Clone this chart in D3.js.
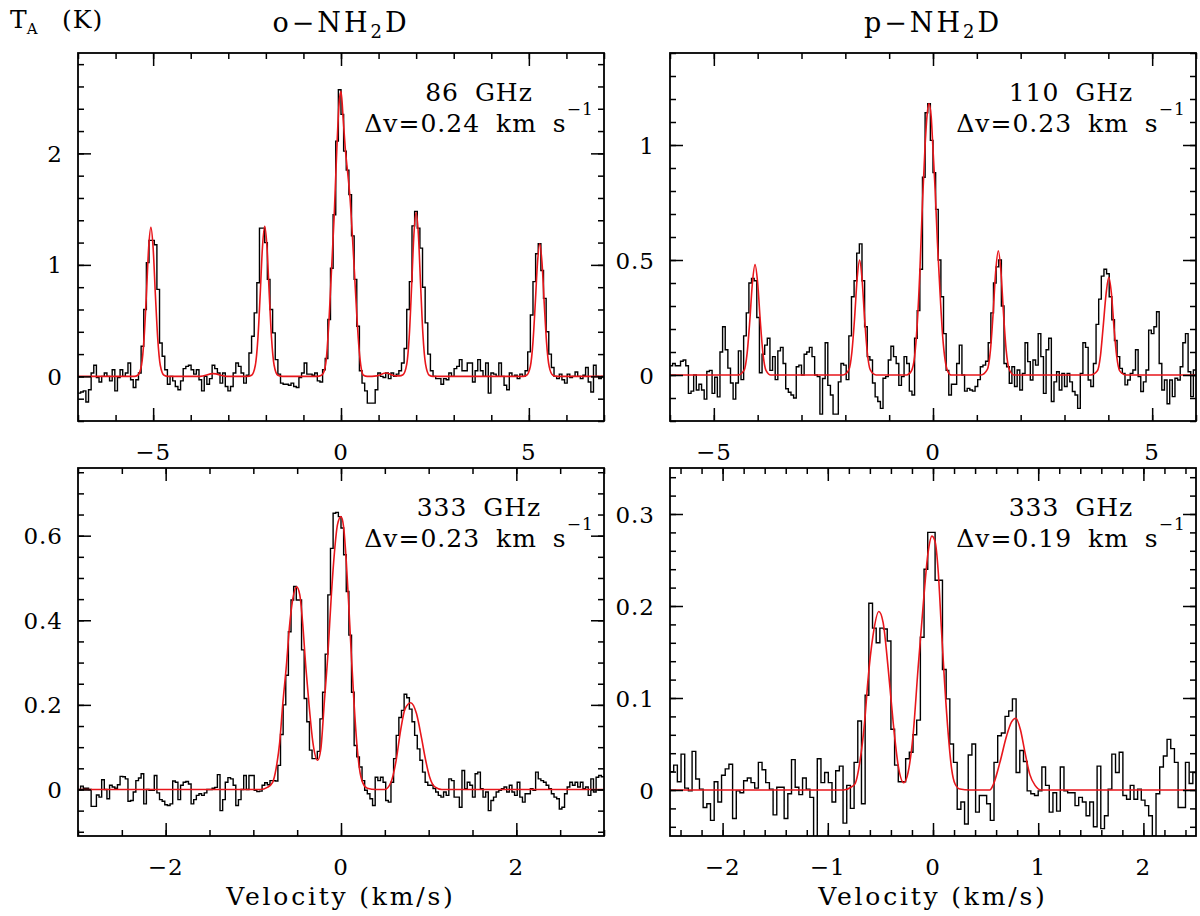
<!DOCTYPE html>
<html>
<head>
<meta charset="utf-8">
<script src="https://cdn.jsdelivr.net/npm/d3@7"></script>
<style>
  body { margin: 0; background: #fff; }
  text { font-family: "DejaVu Serif", serif; fill: #000; }
</style>
</head>
<body>
<svg id="chart" width="1200" height="916"></svg>
<script>
// ---- o-NH2D 86 GHz spectrum (channels of 0.07 km/s starting at -7 km/s)
const v0_86 = -7, dv_86 = 0.07;
const spec86 = [
  -0.15,-0.14,-0.13,-0.23,-0.12,0.03,0.10,-0.01,-0.05,0.00,
  0.03,0.00,-0.04,0.06,-0.13,-0.01,0.06,0.00,0.03,0.12,
  -0.03,-0.10,-0.03,0.03,0.27,0.60,1.02,1.22,1.22,1.18,
  0.78,0.30,0.18,0.06,-0.07,0.00,-0.04,-0.09,-0.12,-0.04,
  0.07,0.09,0.10,0.06,0.02,0.06,-0.03,-0.13,0.00,-0.07,
  -0.02,0.10,0.07,0.03,-0.06,0.03,-0.09,-0.13,-0.09,0.03,
  0.12,0.09,0.03,-0.06,0.01,0.21,0.36,0.57,0.84,1.33,
  1.33,1.20,0.87,0.60,0.39,0.15,0.02,-0.06,-0.07,-0.07,
  -0.08,-0.06,-0.09,-0.10,-0.01,0.03,0.12,0.02,0.02,0.01,
  0.03,-0.04,-0.05,0.06,0.16,0.51,0.97,1.45,2.11,2.57,
  2.35,2.02,1.85,1.63,1.26,0.87,0.45,0.05,-0.06,-0.13,
  -0.24,-0.24,-0.24,-0.12,0.03,0.00,-0.01,0.03,-0.02,0.03,
  0.00,0.02,0.05,0.12,0.25,0.60,0.85,1.35,1.48,1.33,
  1.15,0.80,0.48,0.20,0.05,0.00,-0.02,-0.02,-0.07,-0.02,
  -0.03,0.03,0.00,0.07,0.09,0.15,0.05,0.05,0.12,0.12,
  -0.05,0.05,0.15,0.05,0.00,0.12,-0.15,0.03,0.02,0.00,
  0.12,0.00,-0.08,-0.12,0.03,0.00,0.01,-0.02,0.02,0.00,
  0.05,0.22,0.55,0.85,1.10,1.19,0.95,0.70,0.40,0.20,
  0.08,0.00,-0.02,0.02,-0.03,-0.06,0.02,-0.01,0.00,0.04,
  0.00,-0.02,0.01,0.08,-0.05,-0.14,0.10,0.00,-0.02,0.00
];
// fitted hyperfine profile [velocity, T]
const fit86 = [
  [-7,0],[-5.5,0],[-5.41,0.01],[-5.31,0.10],[-5.24,0.35],[-5.18,0.73],[-5.12,1.15],[-5.06,1.336],
  [-5.00,1.15],[-4.94,0.73],[-4.88,0.35],[-4.81,0.10],[-4.71,0.01],[-4.6,0],
  [-3.75,0],[-3.4,0.025],[-3.05,0],
  [-2.5,0],[-2.38,0.01],[-2.28,0.10],[-2.21,0.35],[-2.15,0.74],[-2.09,1.16],[-2.03,1.345],
  [-1.97,1.16],[-1.91,0.74],[-1.85,0.35],[-1.78,0.10],[-1.68,0.01],[-1.55,0],
  [-0.62,0],[-0.55,0.005],[-0.47,0.03],[-0.39,0.16],[-0.32,0.5],[-0.25,0.97],[-0.18,1.45],
  [-0.11,2.05],[-0.05,2.45],[0,2.556],[0.06,2.3],[0.12,2.02],[0.18,1.82],[0.24,1.6],[0.3,1.28],
  [0.36,0.92],[0.42,0.55],[0.48,0.25],[0.54,0.07],[0.6,0.01],[0.7,0],
  [0.95,0.005],[1.2,0.03],[1.45,0.005],[1.55,0.005],[1.65,0.015],[1.75,0.11],[1.82,0.38],
  [1.88,0.81],[1.94,1.27],[2.0,1.47],[2.06,1.27],[2.12,0.81],[2.18,0.38],[2.25,0.11],[2.35,0.01],[2.45,0],
  [4.85,0],[4.94,0.01],[5.04,0.09],[5.11,0.31],[5.17,0.65],[5.23,1.02],[5.29,1.19],[5.35,1.02],
  [5.41,0.65],[5.47,0.31],[5.54,0.09],[5.64,0.01],[5.75,0],[7,0]
];

// ---- p-NH2D 110 GHz spectrum (channels of 0.06 km/s starting at -6 km/s)
const v0_110 = -6, dv_110 = 0.06;
const spec110 = [
  0.04,0.05,0.04,0.04,0.06,0.065,0.04,-0.08,-0.07,0.00,
  -0.065,-0.04,-0.065,-0.105,0.015,0.02,-0.08,-0.01,-0.095,0.10,
  0.21,0.11,0.03,-0.035,-0.105,-0.035,0.105,-0.02,0.17,0.27,
  0.40,0.42,0.41,0.25,0.01,0.09,0.13,0.16,0.02,0.08,
  -0.02,0.105,0.12,0.05,-0.06,-0.075,-0.087,-0.10,0.036,0.043,
  0.00,0.09,0.10,0.12,0.08,0.00,-0.007,-0.17,-0.015,0.14,
  -0.045,-0.087,-0.17,-0.17,-0.03,0.05,0.043,-0.02,0.17,0.34,
  0.41,0.53,0.57,0.41,0.21,0.08,0.065,-0.035,-0.095,-0.115,
  -0.145,-0.014,-0.007,0.065,0.125,0.08,0.05,-0.045,-0.007,0.08,
  0.05,-0.07,-0.087,0.16,0.28,0.46,0.86,1.14,1.18,1.02,
  0.88,0.72,0.50,0.34,0.18,0.02,-0.087,-0.04,-0.04,0.05,
  0.13,0.00,-0.07,-0.058,-0.065,-0.07,-0.05,-0.02,0.036,0.043,
  0.06,0.14,0.27,0.40,0.47,0.50,0.30,0.05,0.036,-0.036,
  0.036,-0.05,0.022,-0.065,0.007,0.14,0.058,-0.022,0.065,0.043,
  0.18,0.08,-0.08,0.11,0.16,-0.115,-0.03,0.014,-0.065,0.007,
  -0.05,0.007,-0.03,-0.072,-0.087,-0.145,0.007,0.14,0.12,-0.022,
  -0.05,0.05,0.22,0.33,0.43,0.46,0.44,0.34,0.24,0.15,
  0.08,0.029,0.007,-0.043,-0.022,0.007,0.022,0.11,-0.007,-0.072,
  -0.03,0.022,0.195,0.18,0.21,0.275,0.05,-0.065,-0.022,-0.125,
  -0.022,-0.094,-0.014,-0.022,0.036,0.14,0.18,0.014,-0.094,0.022
];
const fit110 = [
  [-6,0],[-4.45,0],[-4.31,0.02],[-4.24,0.095],[-4.18,0.234],[-4.12,0.40],[-4.06,0.48],[-4.0,0.40],
  [-3.94,0.234],[-3.88,0.095],[-3.81,0.02],[-3.7,0],
  [-2.05,0],[-1.92,0.022],[-1.85,0.10],[-1.79,0.244],[-1.73,0.42],[-1.675,0.50],[-1.62,0.42],
  [-1.56,0.244],[-1.5,0.10],[-1.43,0.022],[-1.3,0],
  [-0.6,0],[-0.5,0.015],[-0.42,0.08],[-0.36,0.22],[-0.3,0.45],[-0.24,0.75],[-0.18,1.0],[-0.13,1.14],
  [-0.09,1.18],[-0.04,1.12],[0.0,0.98],[0.05,0.8],[0.1,0.58],[0.16,0.36],[0.22,0.17],[0.28,0.06],
  [0.34,0.015],[0.42,0],
  [1.1,0],[1.24,0.024],[1.31,0.107],[1.37,0.263],[1.43,0.45],[1.49,0.54],[1.55,0.45],[1.61,0.263],
  [1.67,0.107],[1.74,0.024],[1.85,0],
  [3.6,0],[3.75,0.018],[3.82,0.083],[3.88,0.205],[3.95,0.355],[4.01,0.425],[4.07,0.355],[4.13,0.205],
  [4.19,0.083],[4.26,0.018],[4.4,0],[6,0]
];

// ---- o-NH2D 333 GHz spectrum (channels of 0.03 km/s starting at -3 km/s)
const v0_333o = -3, dv_333o = 0.03;
const spec333o = [
  0.00,0.008,0.003,0.003,0.00,-0.04,-0.04,-0.013,-0.018,0.023,
  0.00,-0.022,0.01,0.006,0.003,0.011,0.031,0.03,0.025,-0.028,
  -0.026,-0.006,0.021,0.027,0.037,-0.034,0.00,-0.002,-0.002,0.033,
  -0.008,-0.024,-0.028,-0.036,-0.038,-0.034,0.02,0.017,-0.024,0.01,
  0.017,0.019,0.013,-0.034,-0.024,-0.014,-0.01,-0.014,-0.008,0.00,
  0.00,0.003,0.005,0.035,-0.05,-0.024,0.017,0.028,0.025,0.01,
  -0.038,-0.024,0.00,0.033,0.00,0.033,0.033,-0.002,-0.005,-0.004,
  0.01,0.016,0.011,0.021,0.021,0.02,0.057,0.13,0.20,0.27,
  0.373,0.448,0.48,0.448,0.448,0.33,0.215,0.16,0.093,0.073,
  0.073,0.09,0.167,0.23,0.32,0.46,0.57,0.653,0.655,0.645,
  0.618,0.555,0.468,0.365,0.23,0.104,0.077,0.053,0.021,-0.002,
  -0.01,-0.022,-0.038,0.029,0.021,0.029,0.017,-0.026,-0.03,0.017,
  0.073,0.128,0.17,0.187,0.225,0.217,0.19,0.16,0.128,0.096,
  0.069,0.041,0.017,0.01,0.01,0.002,-0.006,-0.014,-0.018,-0.006,
  -0.014,0.025,0.021,-0.018,-0.018,-0.042,0.045,0.002,0.017,0.01,
  -0.018,0.037,0.041,0.002,-0.018,-0.006,-0.05,-0.026,-0.018,-0.006,
  -0.002,0.002,0.006,-0.006,0.01,-0.006,-0.014,0.017,-0.018,-0.03,
  -0.01,-0.01,0.002,-0.002,0.041,0.025,0.021,0.017,0.01,0.002,
  -0.01,-0.018,-0.022,-0.046,-0.042,-0.01,0.006,0.017,0.01,0.017,
  0.006,0.017,0.002,0.006,-0.014,0.025,-0.006,0.029,0.033,0.03
];
const fit333o = [
  [-3,0],[-0.92,0],[-0.84,0.005],[-0.78,0.017],[-0.74,0.05],[-0.70,0.11],[-0.665,0.2],[-0.62,0.3],
  [-0.59,0.38],[-0.55,0.45],[-0.506,0.479],[-0.47,0.46],[-0.44,0.4],[-0.40,0.286],[-0.36,0.19],
  [-0.32,0.11],[-0.266,0.069],[-0.23,0.096],[-0.19,0.207],[-0.15,0.318],[-0.11,0.46],[-0.075,0.56],
  [-0.04,0.626],[0,0.645],[0.03,0.62],[0.06,0.54],[0.09,0.43],[0.12,0.31],[0.15,0.2],[0.18,0.11],
  [0.21,0.05],[0.25,0.015],[0.3,0.003],[0.4,0],[0.5,0],[0.57,0.017],[0.63,0.07],[0.68,0.14],
  [0.73,0.19],[0.795,0.205],[0.86,0.18],[0.92,0.12],[0.96,0.075],[1.01,0.03],[1.07,0.006],[1.15,0],[3,0]
];

// ---- p-NH2D 333 GHz spectrum (channels of 0.035 km/s starting at -2.5 km/s)
const v0_333p = -2.5, dv_333p = 0.035;
const spec333p = [
  0.02,0.027,0.009,0.039,0.002,-0.001,0.042,0.012,0.001,-0.019,
  -0.015,-0.033,0.009,-0.013,0.016,0.023,0.028,-0.031,-0.001,-0.003,
  0.01,0.013,0.008,0.002,0.03,0.022,0.008,0.001,-0.027,0.003,
  0.003,-0.031,-0.004,0.033,0.003,-0.005,0.013,0.001,-0.008,-0.06,
  0.034,0.008,0.019,0.008,-0.013,0.021,0.026,-0.036,0.005,-0.02,
  0.03,0.075,-0.015,0.103,0.203,0.176,0.16,0.176,0.175,0.162,
  0.066,0.027,0.009,0.009,0.034,0.041,0.06,0.076,0.166,0.24,
  0.28,0.28,0.228,0.228,0.131,0.099,0.05,0.03,-0.021,-0.013,
  -0.037,0.038,0.05,-0.024,-0.006,-0.006,-0.015,-0.033,0.03,0.059,
  0.062,0.08,0.086,0.099,0.019,0.043,0.031,-0.001,-0.004,-0.006,
  -0.001,0.025,0.005,-0.024,-0.003,-0.023,0.025,-0.001,-0.003,-0.003,
  -0.017,-0.008,-0.013,-0.028,-0.013,-0.04,0.026,-0.042,-0.028,0.001,
  0.039,0.019,0.041,-0.006,-0.01,0.005,-0.01,0.001,-0.011,-0.017,
  -0.028,-0.05,-0.004,0.025,0.037,0.055,0.045,0.03,-0.019,-0.019,
  0.03,0.007,0.019
];
const fit333p = [
  [-2.5,0],[-0.85,0],[-0.78,0.003],[-0.74,0.007],[-0.696,0.03],[-0.65,0.074],[-0.62,0.117],
  [-0.57,0.168],[-0.515,0.194],[-0.474,0.182],[-0.426,0.132],[-0.379,0.074],[-0.33,0.026],
  [-0.278,0.008],[-0.237,0.019],[-0.19,0.059],[-0.142,0.132],[-0.094,0.2],[-0.047,0.258],
  [-0.01,0.276],[0.02,0.27],[0.05,0.237],[0.08,0.175],[0.11,0.117],[0.146,0.059],[0.177,0.023],
  [0.21,0.0065],[0.256,0.001],[0.35,0],[0.54,0],[0.57,0.005],[0.636,0.03],[0.7,0.059],[0.747,0.074],
  [0.788,0.078],[0.83,0.066],[0.874,0.041],[0.92,0.017],[0.97,0.005],[1.03,0],[2.5,0]
];

// ---- axis labels
const xLabels86 = [-5, 0, 5], yLabels86 = [0, 1, 2];
const xLabels110 = [-5, 0, 5], yLabels110 = [0, 0.5, 1];
const xLabels333o = [-2, 0, 2], yLabels333o = [0, 0.2, 0.4, 0.6];
const xLabels333p = [-2, -1, 0, 1, 2], yLabels333p = [0, 0.1, 0.2, 0.3];
const freqLabels = ["86 GHz", "110 GHz", "333 GHz", "333 GHz"];
const widthLabels = ["0.24", "0.23", "0.23", "0.19"];

const panels = [
  { x0: 78,  x1: 604,  y0: 53,  y1: 421, xDom: [-7, 7],     yDom: [-0.4, 2.9],   xStep: 1,   yStep: 0.2,
    xMajor: xLabels86, yMajor: yLabels86, v0: v0_86, dv: dv_86, spec: spec86, fit: fit86, velocity: false },
  { x0: 670, x1: 1196, y0: 53,  y1: 421, xDom: [-6, 6],     yDom: [-0.2, 1.4],   xStep: 1,   yStep: 0.1,
    xMajor: xLabels110, yMajor: yLabels110, v0: v0_110, dv: dv_110, spec: spec110, fit: fit110, velocity: false },
  { x0: 78,  x1: 604,  y0: 468, y1: 836, xDom: [-3, 3],     yDom: [-0.11, 0.76], xStep: 0.5, yStep: 0.05,
    xMajor: xLabels333o, yMajor: yLabels333o, v0: v0_333o, dv: dv_333o, spec: spec333o, fit: fit333o, velocity: true },
  { x0: 670, x1: 1196, y0: 468, y1: 836, xDom: [-2.5, 2.5], yDom: [-0.05, 0.35], xStep: 0.2, yStep: 0.02,
    xMajor: xLabels333p, yMajor: yLabels333p, v0: v0_333p, dv: dv_333p, spec: spec333p, fit: fit333p, velocity: true }
];

const svg = d3.select("#chart");
const fmt = d3.format("~g");

function stepValues(dom, step) {
  const a = Math.ceil(dom[0] / step - 1e-9), b = Math.floor(dom[1] / step + 1e-9);
  return d3.range(a, b + 1).map(i => +(i * step).toFixed(6));
}

function tickAxis(g, axis, values, len) {
  g.call(axis.tickValues(values).tickSize(-len).tickFormat(""));
  g.select(".domain").remove();
  g.selectAll(".tick line").attr("stroke", "#000").attr("stroke-width", 1.5);
}

panels.forEach((p, i) => {
  const x = d3.scaleLinear().domain(p.xDom).range([p.x0, p.x1]);
  const y = d3.scaleLinear().domain(p.yDom).range([p.y1, p.y0]);
  const g = svg.append("g");

  const clipId = "clip" + i;
  svg.append("clipPath").attr("id", clipId)
    .append("rect").attr("x", p.x0).attr("y", p.y0)
    .attr("width", p.x1 - p.x0).attr("height", p.y1 - p.y0);

  // observed spectrum as a histogram
  const bins = p.spec.map((t, k) => [p.v0 + k * p.dv, t]);
  bins.push([p.v0 + p.spec.length * p.dv, p.spec[p.spec.length - 1]]);
  const hist = d3.line().x(d => x(d[0])).y(d => y(d[1])).curve(d3.curveStepAfter);
  g.append("path").datum(bins)
    .attr("clip-path", `url(#${clipId})`)
    .attr("d", hist).attr("fill", "none")
    .attr("stroke", "#000").attr("stroke-width", 1.4);

  // hyperfine fit
  const smooth = d3.line().x(d => x(d[0])).y(d => y(d[1])).curve(d3.curveMonotoneX);
  g.append("path").datum(p.fit)
    .attr("clip-path", `url(#${clipId})`)
    .attr("d", smooth).attr("fill", "none")
    .attr("stroke", "#e8161b").attr("stroke-width", 1.6);

  // frame
  g.append("rect").attr("x", p.x0).attr("y", p.y0)
    .attr("width", p.x1 - p.x0).attr("height", p.y1 - p.y0)
    .attr("fill", "none").attr("stroke", "#000").attr("stroke-width", 1.8);

  // inward ticks on all four sides
  const xMinor = stepValues(p.xDom, p.xStep), yMinor = stepValues(p.yDom, p.yStep);
  [[d3.axisBottom, p.y1], [d3.axisTop, p.y0]].forEach(([mk, yy]) => {
    const tr = `translate(0,${yy})`;
    tickAxis(g.append("g").attr("transform", tr), mk(x), xMinor, 6);
    tickAxis(g.append("g").attr("transform", tr), mk(x), p.xMajor, 13);
  });
  [[d3.axisLeft, p.x0], [d3.axisRight, p.x1]].forEach(([mk, xx]) => {
    const tr = `translate(${xx},0)`;
    tickAxis(g.append("g").attr("transform", tr), mk(y), yMinor, 6);
    tickAxis(g.append("g").attr("transform", tr), mk(y), p.yMajor, 13);
  });

  // tick labels
  g.selectAll(".xl").data(p.xMajor).join("text")
    .attr("x", d => x(d)).attr("y", p.y1 + 39)
    .attr("text-anchor", "middle").attr("font-size", 23).attr("letter-spacing", 1)
    .text(d => fmt(d));
  g.selectAll(".yl").data(p.yMajor).join("text")
    .attr("x", p.x0 - 15).attr("y", d => y(d) + 8.5)
    .attr("text-anchor", "end").attr("font-size", 23).attr("letter-spacing", 1)
    .text(d => fmt(d));

  // line annotations
  const cx = p.x1 - 125;
  g.append("text").attr("x", cx).attr("y", p.y0 + 48)
    .attr("text-anchor", "middle").attr("font-size", 25)
    .attr("letter-spacing", 1).attr("word-spacing", 7)
    .text(freqLabels[i]);
  const t = g.append("text").attr("x", cx).attr("y", p.y0 + 79)
    .attr("text-anchor", "middle").attr("font-size", 25)
    .attr("letter-spacing", 1).attr("word-spacing", 7);
  t.append("tspan").text(`Δv=${widthLabels[i]} km s`);
  t.append("tspan").attr("dy", -17).attr("font-size", 17).text("−1");

  if (p.velocity) {
    g.append("text").attr("x", (p.x0 + p.x1) / 2).attr("y", 905)
      .attr("text-anchor", "middle").attr("font-size", 25).attr("letter-spacing", 2.8)
      .text("Velocity (km/s)");
  }
});

// column titles
[["o", 341], ["p", 933]].forEach(([spin, cx]) => {
  const t = svg.append("text").attr("x", cx).attr("y", 32)
    .attr("text-anchor", "middle").attr("font-size", 27).attr("letter-spacing", 3);
  t.append("tspan").text(spin + "−NH");
  t.append("tspan").attr("dy", 6).attr("font-size", 18).text("2");
  t.append("tspan").attr("dy", -6).text("D");
});

// y-axis unit
const ta = svg.append("text").attr("x", 10).attr("y", 28).attr("font-size", 25);
ta.append("tspan").text("T");
ta.append("tspan").attr("dy", 6).attr("font-size", 15).text("A");
svg.append("text").attr("x", 62).attr("y", 28).attr("font-size", 25).attr("letter-spacing", 1).text("(K)");
</script>
</body>
</html>
